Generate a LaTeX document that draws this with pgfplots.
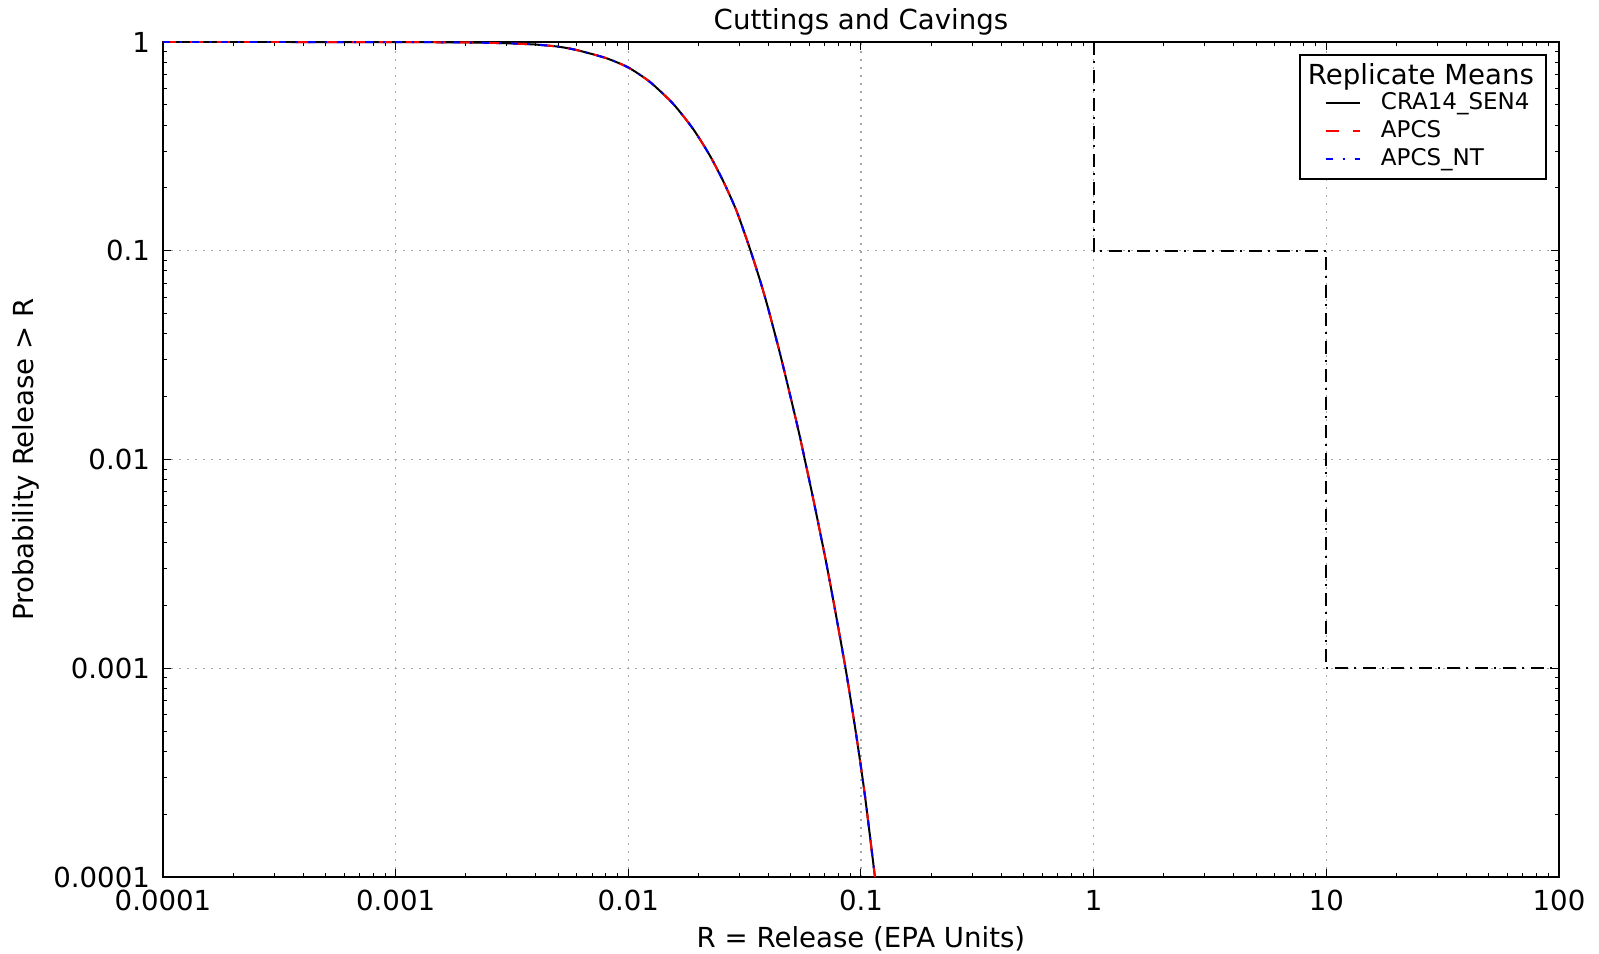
\documentclass[border=0pt]{standalone}
\usepackage{fontspec}
\setmainfont{DejaVu Sans}
\usepackage{pgfplots}
\usepackage{pgfplotstable}
\pgfplotsset{compat=1.18}

\pgfplotstableread{
x p
0.0001 1.0
0.0003 1.0
0.001 0.999
0.002 0.995
0.003 0.986
0.004 0.972
0.005 0.950
0.006 0.915
0.008 0.838
0.010 0.755
0.0124 0.643
0.0156 0.505
0.019 0.383
0.0224 0.286
0.0256 0.215
0.0292 0.155
0.0333 0.1023
0.0368 0.0723
0.0400 0.0524
0.0448 0.0324
0.0494 0.0207
0.0540 0.0136
0.0574 0.00995
0.0620 0.00667
0.0665 0.00456
0.0710 0.00318
0.0783 0.00177
0.0867 0.000935
0.0957 0.000468
0.104 0.000245
0.1148 0.0001
}\curvedata

\begin{document}
\begin{tikzpicture}
\begin{axis}[
  scale only axis,
  width=698pt, height=417.5pt,
  xmode=log, ymode=log,
  xmin=1e-4, xmax=100, ymin=1e-4, ymax=1,
  xtick={1e-4,1e-3,1e-2,1e-1,1,10,100},
  xticklabels={0.0001,0.001,0.01,0.1,1,10,100},
  ytick={1e-4,1e-3,1e-2,1e-1,1},
  yticklabels={0.0001,0.001,0.01,0.1,1},
  tick align=inside,
  major tick length=4pt, minor tick length=2pt,
  every tick/.style={black, line width=0.5pt},
  axis line style={line width=0.9pt},
  grid=major,
  major grid style={gray!70, dash pattern=on 0.8pt off 3.2pt, line width=0.6pt},
  tick label style={font=\fontsize{13.8}{16}\selectfont},
  /pgf/number format/assume math mode=true,
  xticklabel style={yshift=-3pt},
  yticklabel style={xshift=-3pt},
  every axis title/.style={at={(axis description cs:0.5,1.0144)}, anchor=base, inner sep=0pt, font=\fontsize{13.8}{16}\selectfont},
  every axis x label/.style={at={(axis description cs:0.5,-0.085)}, anchor=base, inner sep=0pt, font=\fontsize{13.8}{16}\selectfont},
  every axis y label/.style={at={(axis description cs:-0.0929,0.5)}, rotate=90, anchor=base, inner sep=0pt, font=\fontsize{13.8}{16}\selectfont},
  title={Cuttings and Cavings},
  xlabel={R = Release (EPA Units)},
  ylabel={Probability Release > R},
  legend style={at={(axis description cs:0.9914,0.9856)}, anchor=north east,
    draw=black, line width=1pt, font=\fontsize{11.5}{13}\selectfont,
    inner xsep=4pt, inner ysep=3pt, row sep=0pt,
    nodes={inner ysep=1pt, text height=9pt, text depth=3pt}},
  legend cell align=left,
  legend image code/.code={\draw[#1] (0pt,0pt) -- (17pt,0pt); \path (-8.5pt,0pt) (25.2pt,0pt);},
]
\addlegendimage{empty legend}
\addlegendentry{\hspace*{-36.5pt}\raisebox{-1.5pt}{\fontsize{13.8}{16}\selectfont Replicate Means}}

\addplot[black, line width=1pt, smooth, tension=0.4] table[x=x, y=p] {\curvedata};
\addlegendentry{CRA14\_SEN4}
\addplot[red, line width=1pt, smooth, tension=0.4, dash pattern=on 6.5pt off 7pt] table[x=x, y=p] {\curvedata};
\addlegendentry{APCS}
\addplot[blue, line width=1pt, smooth, tension=0.4, dash pattern=on 3.5pt off 5pt on 1pt off 5pt] table[x=x, y=p] {\curvedata};
\addlegendentry{APCS\_NT}

\addplot[black, line width=1pt, dash pattern=on 6.5pt off 3pt on 1pt off 3.5pt, forget plot]
  coordinates {(1,1) (1,0.1) (10,0.1) (10,0.001) (100,0.001)};
\end{axis}
\path (current axis.south west) ++(-81.5pt,-38pt);
\path (current axis.north east) ++(20pt,21pt);
\end{tikzpicture}
\end{document}
